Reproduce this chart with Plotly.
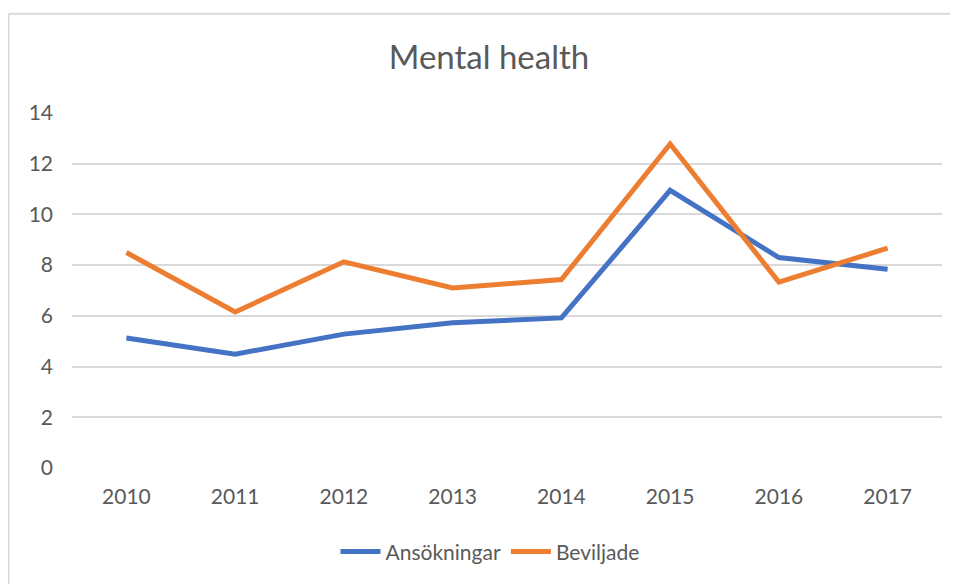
import plotly.graph_objects as go

years = ["2010", "2011", "2012", "2013", "2014", "2015", "2016", "2017"]
ansokningar = [5.13, 4.49, 5.28, 5.73, 5.92, 10.95, 8.30, 7.84]
beviljade = [8.50, 6.15, 8.13, 7.10, 7.43, 12.78, 7.33, 8.67]
y_ticks = [0, 2, 4, 6, 8, 10, 12, 14]

FONT = "Lato"
TXT = "#595959"
GRID = "#D9D9D9"

fig = go.Figure()
fig.add_trace(go.Scatter(x=years, y=ansokningar, mode="lines", name="Ansökningar",
                         line=dict(color="#4472C4", width=5)))
fig.add_trace(go.Scatter(x=years, y=beviljade, mode="lines", name="Beviljade",
                         line=dict(color="#ED7D31", width=5)))

# page has an 8px body margin; work in page coords and shift
OFF = 8
W, H = 958 - OFF, 585 - OFF
L, R, T = 72 - OFF, 16, 113 - OFF
bottom_px = 470.5 - OFF
B = H - bottom_px
pw, ph = W - L - R, bottom_px - T

bx = (0.5 - L) / pw
by = (bottom_px - (13 - OFF)) / ph

fig.update_layout(
    width=W, height=H,
    margin=dict(l=L, r=R, t=T, b=B, pad=0),
    paper_bgcolor="white", plot_bgcolor="white",
    font=dict(family=FONT, color=TXT, size=21),
    title=dict(text="Mental health", x=(489 - OFF) / W, xanchor="center",
               y=1 - (57 - OFF) / H, yanchor="middle", yref="container",
               font=dict(family=FONT, size=33, color=TXT)),
    showlegend=True,
    legend=dict(orientation="h", x=(490 - 72) / pw, xanchor="center",
                y=-(555 - 470.5) / ph, yanchor="middle",
                font=dict(family=FONT, size=21, color=TXT),
                itemwidth=40, tracegroupgap=0),
    xaxis=dict(type="category", range=[-0.5, 7.5], showgrid=False, zeroline=False,
               showline=False, ticks="", tickfont=dict(size=21, color=TXT),
               ticklabelstandoff=14, fixedrange=True),
    yaxis=dict(range=[0, 14], tickvals=y_ticks, showgrid=True, gridcolor=GRID,
               gridwidth=2, zeroline=False, showline=False, ticks="",
               tickfont=dict(size=21, color=TXT), ticklabelstandoff=18),
    shapes=[
        dict(type="line", xref="paper", yref="paper",
             x0=bx, x1=bx, y0=(bottom_px - H - 2) / ph, y1=by,
             line=dict(color=GRID, width=2), layer="below"),
        dict(type="line", xref="paper", yref="paper",
             x0=bx, x1=(W - L) / pw, y0=by, y1=by,
             line=dict(color=GRID, width=2), layer="below"),
    ],
)

fig.write_html("out.html", config={"displayModeBar": False})
